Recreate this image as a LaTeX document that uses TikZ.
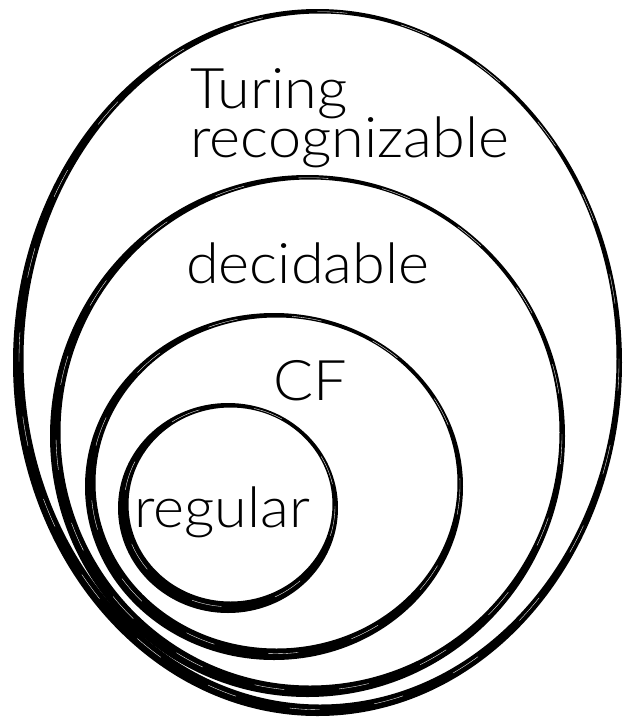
\documentclass[tikz,border=0pt]{standalone}
\usepackage{fontspec}
\IfFontExistsTF{Lato Light}{\setmainfont{Lato Light}[FakeStretch=1.06]}{\setmainfont{Liberation Sans}}
\begin{document}
\begin{tikzpicture}[x=1pt,y=-1pt,
  lbl/.style={anchor=base west,inner sep=0pt,font=\fontsize{56}{60}\selectfont},
  brush/.style={fill=black,even odd rule},
  streak/.style={draw=white,line width=0.35pt,dash pattern=on 30pt off 55pt}]
\useasboundingbox[fill=white] (0,0) rectangle (626,724);
% brush ellipse: #1 cx, #2 cy, #3 rx, #4 ry
\newcommand{\brushell}[4]{%
  \fill[brush] (#1,#2) ellipse [x radius=#3, y radius=#4]
     ({#1+2.5},{#2-3.5}) ellipse [x radius={#3-8}, y radius={#4-8}];
  \draw[streak] ({#1+1.5},{#2-1.8}) ellipse [x radius={#3-4.5}, y radius={#4-4.5}];
}
\brushell{317.5}{362.5}{304.5}{353.5}
\brushell{307.5}{436}{257.5}{261}
\brushell{274}{486.5}{189}{173.5}
\brushell{228}{508}{110}{105}
\node[lbl] (tur) at (190,108) {Turing};
\node[lbl] (rec) at (190,157) {recognizable};
\node[lbl] (dec) at (186,283) {decidable};
\node[lbl] (cf) at (273,400) {CF};
\node[lbl] (reg) at (134,527) {regular};
\end{tikzpicture}
\end{document}
